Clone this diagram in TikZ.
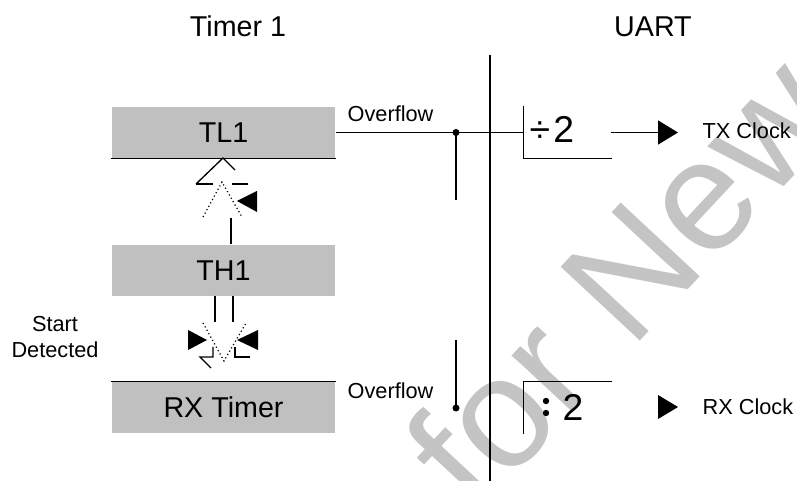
\documentclass[tikz,border=0pt]{standalone}
\usepackage{fontspec}
\setmainfont{Liberation Sans}
\usetikzlibrary{arrows.meta}
\begin{document}
\begin{tikzpicture}[x=0.75pt,y=-0.75pt,
  line width=1pt,
  title/.style={font=\fontsize{21.5}{24}\selectfont, inner sep=0pt},
  small/.style={font=\fontsize{16.3}{20}\selectfont, inner sep=0pt},
  divtext/.style={font=\fontsize{28}{30}\selectfont, inner sep=0pt},
  regbox/.style={fill={rgb,255:red,192;green,192;blue,192}, minimum width=167.25pt, minimum height=38.25pt, inner sep=0pt, font=\fontsize{21.5}{24}\selectfont},
  divbox/.style={minimum width=65.25pt, minimum height=38.25pt, inner sep=0pt},
  dotline/.style={dotted, line width=0.9pt},
  tri/.style={fill=black, draw=none},
  wmark/.style={text={rgb,255:red,196;green,196;blue,196}, font=\fontsize{118}{124}\selectfont, inner sep=0pt}
]
\useasboundingbox (0,0) rectangle (797,481);
\begin{scope}
\clip (0,0) rectangle (797,481);
\node[wmark, rotate=47] (wm) at (620,280) {for New};
\end{scope}

% titles
\node[title] (t1) at (238,26) {Timer 1};
\node[title] (uart) at (653,27) {UART};

% registers
\node[regbox] (tl1) at (223.5,132.5) {TL1};
\node[regbox] (th1) at (223.5,270.5) {TH1};
\node[regbox] (rxt) at (223.5,407.5) {RX Timer};
\draw (tl1.south west) -- (tl1.south east);
\draw (rxt.north west) -- (rxt.north east);

% dividers
\node[divbox] (divtx) at (567.5,132.5) {};
\node[divbox] (divrx) at (567.5,407.5) {};
\draw (divtx.north west) -- (divtx.south west) -- (divtx.south east);
\draw (divrx.south west) -- (divrx.north west) -- (divrx.north east);
\node[divtext, anchor=base west] (dtx) at (529,143) {÷\hspace{2.5pt}2};
\node[divtext, anchor=base west] (drx) at (562,420) {2};
\fill (546,401) circle (3.2);
\fill (546,413) circle (3.2);

% main separator
\coordinate (sepT) at (490,55);
\coordinate (sepB) at (490,481);
\draw (sepT) -- (sepB);

% overflow TX
\node[small, anchor=base west] (ov1) at (347,122) {Overflow};
\draw (tl1.east) -- (divtx.west);
\coordinate (j1) at (456,132.5);
\coordinate (j1b) at (456,200);
\fill (j1) circle (3.5);
\draw (j1) -- (j1b);

% TX clock
\coordinate (txa) at (611,132.5);
\coordinate (txb) at (678,132.5);
\draw[-{Triangle[length=15pt,width=18pt]}] (txa) -- (txb);
\node[small, anchor=west] (txc) at (702,131) {TX Clock};

% overflow RX
\node[small, anchor=base west] (ov2) at (347,398) {Overflow};
\coordinate (j2) at (456,408);
\coordinate (j2t) at (456,340);
\fill (j2) circle (3.5);
\draw (j2) -- (j2t);

% RX clock
\fill[tri] (658,395) -- (678,407) -- (658,419) -- cycle;
\node[small, anchor=west] (rxc) at (702,407) {RX Clock};

% start detected
\node[small, align=center, font=\fontsize{16.3}{20}\selectfont] (sd) at (55,337) {Start\\Detected};

% upper switch (TH1 -> TL1)
\coordinate (u0) at (231,218);
\draw (u0) -- (th1.north -| u0);
\draw (196,184) -- (223,158) -- (235,170);
\draw (196,184) -- (213,184);
\draw (232,184) -- (248,184);
\draw[dotline] (203,217) -- (222,182) -- (242,217);
\fill[tri] (237,201) -- (257,191) -- (257,212) -- cycle;

% lower switch (TH1 -> RX Timer)
\draw (215,296) -- (215,322);
\draw (233,296) -- (233,322);
\draw[dotline] (203,323) -- (224,361) -- (246,323);
\fill[tri] (188,330) -- (207,340) -- (188,350) -- cycle;
\fill[tri] (258,330) -- (237,340) -- (258,350) -- cycle;
\draw (213,347) -- (213,357) -- (200,357) -- (211,368);
\draw (235,347) -- (235,357) -- (250,357);
\end{tikzpicture}
\end{document}
